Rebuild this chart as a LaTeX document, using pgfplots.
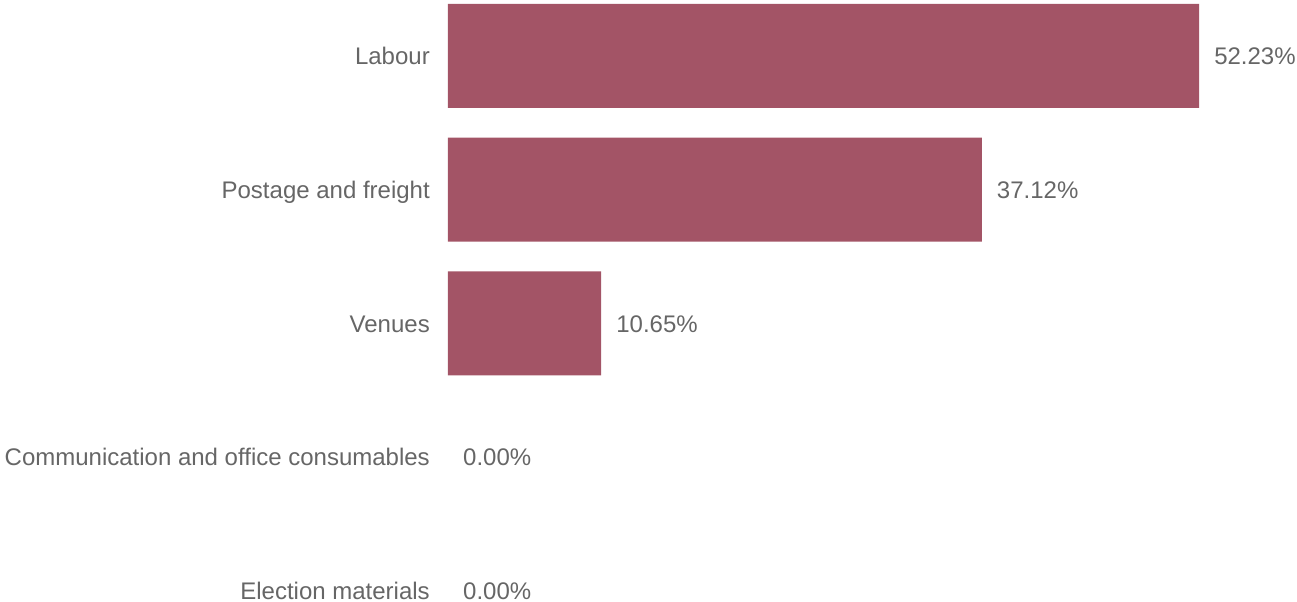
\documentclass[border=0pt]{standalone}
\usepackage{pgfplots}
\pgfplotsset{compat=1.18}
\usepackage{fontspec}
\setmainfont{Liberation Sans}
\definecolor{barc}{HTML}{A35466}
\definecolor{txt}{HTML}{666666}
\begin{document}
\begin{tikzpicture}
\begin{axis}[
  scale only axis,
  width=1297pt, height=602pt,
  xmin=-31.15, xmax=59.04,
  ymin=-0.0822, ymax=4.4187,
  axis line style={draw=none},
  xtick=\empty,
  ytick={0,1,2,3,4},
  yticklabels={Election materials,Communication and office consumables,Venues,Postage and freight,Labour},
  major tick length=0pt,
  ytick style={draw=none},
  yticklabel style={anchor=base east, inner sep=0pt, xshift=430pt, yshift=-8.6pt, font=\fontsize{24}{28}\selectfont, text=txt},
  xbar, bar shift=0pt, bar width=104pt,
  /pgf/number format/assume math mode=true,
  nodes near coords={\pgfmathprintnumber[fixed,fixed zerofill,precision=2]{\pgfplotspointmeta}\%},
  nodes near coords style={anchor=base west, inner sep=0pt, xshift=15pt, yshift=-8.6pt, font=\fontsize{24}{28}\selectfont, text=txt},
  clip=false,
]
\addplot[fill=barc, draw=none] coordinates {(10.65,2) (37.12,3) (52.23,4)};
\addplot[fill=none, draw=none] coordinates {(0,0) (0,1)};
\end{axis}
\pgfresetboundingbox
\path (current axis.south west) rectangle (current axis.north east);
\end{tikzpicture}
\end{document}
